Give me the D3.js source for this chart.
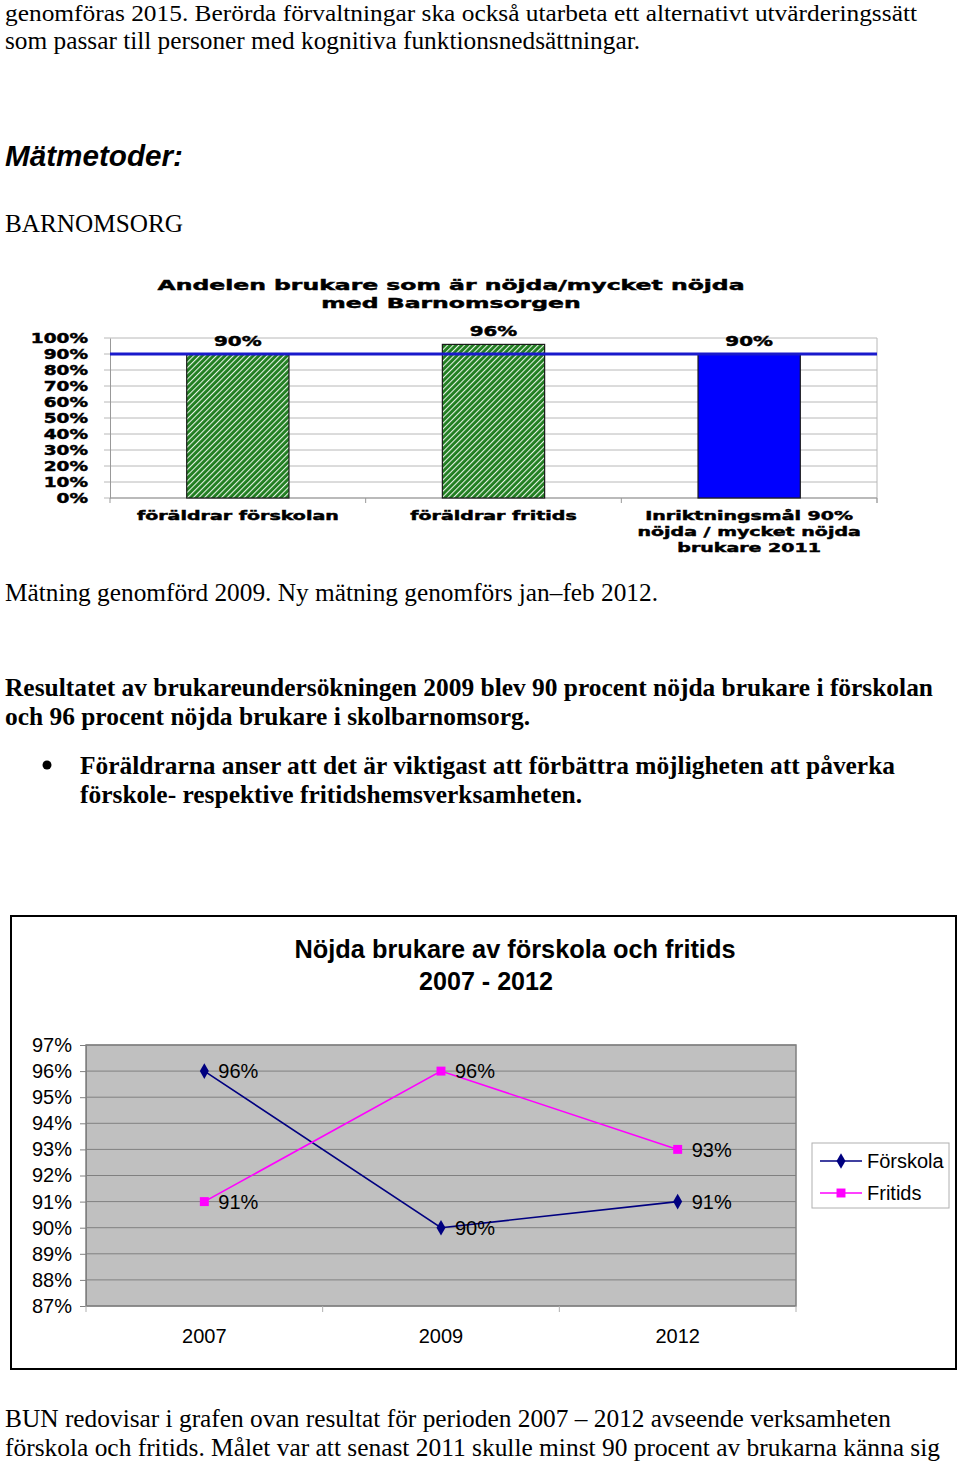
<!DOCTYPE html>
<html><head><meta charset="utf-8">
<script src="https://cdn.jsdelivr.net/npm/d3@7"></script>
<style>body{margin:0;background:#fff}svg{display:block}</style>
</head><body>
<script>
// ---------- DATA ----------
const barCategories = [["föräldrar förskolan"], ["föräldrar fritids"], ["Inriktningsmål 90%", "nöjda / mycket nöjda", "brukare 2011"]];
const barValues = [0.90, 0.96, 0.90];
const barTarget = 0.90;
const barTicks = [0, 0.1, 0.2, 0.3, 0.4, 0.5, 0.6, 0.7, 0.8, 0.9, 1.0];
const barTitle = ["Andelen brukare som är nöjda/mycket nöjda", "med Barnomsorgen"];

const years = ["2007", "2009", "2012"];
const forskola = [0.96, 0.90, 0.91];
const fritids = [0.91, 0.96, 0.93];
const lineTicks = [0.87, 0.88, 0.89, 0.90, 0.91, 0.92, 0.93, 0.94, 0.95, 0.96, 0.97];
const lineTitle = ["Nöjda brukare av förskola och fritids", "2007 - 2012"];
const seriesNames = ["Förskola", "Fritids"];

const textTop = ["genomföras 2015. Berörda förvaltningar ska också utarbeta ett alternativt utvärderingssätt",
  "som passar till personer med kognitiva funktionsnedsättningar."];
const heading = "Mätmetoder:";
const subheading = "BARNOMSORG";
const textMid = "Mätning genomförd 2009. Ny mätning genomförs jan–feb 2012.";
const textBold = ["Resultatet av brukareundersökningen 2009 blev 90 procent nöjda brukare i förskolan",
  "och 96 procent nöjda brukare i skolbarnomsorg."];
const textBullet = ["Föräldrarna anser att det är viktigast att förbättra möjligheten att påverka",
  "förskole- respektive fritidshemsverksamheten."];
const textBottom = ["BUN redovisar i grafen ovan resultat för perioden 2007 – 2012 avseende verksamheten",
  "förskola och fritids. Målet var att senast 2011 skulle minst 90 procent av brukarna känna sig"];

// ---------- PAGE ----------
const svg = d3.select("body").append("svg").attr("width", 960).attr("height", 1464);
svg.append("rect").attr("width", 960).attr("height", 1464).attr("fill", "#fff");

function fit(sel, w) { sel.attr("textLength", w).attr("lengthAdjust", "spacingAndGlyphs"); return sel; }
function stretch(sel, k) {
  sel.each(function () { const n = this.getComputedTextLength(); d3.select(this).attr("textLength", n * k).attr("lengthAdjust", "spacingAndGlyphs"); });
}
const serif = "'Liberation Serif','Times New Roman',serif";
const sans = "'Liberation Sans',Arial,sans-serif";
const wide = "'DejaVu Sans',Verdana,sans-serif";

function bodyLine(txt, x, y, w, bold, size) {
  const t = svg.append("text").attr("x", x).attr("y", y).text(txt)
    .attr("font-family", serif).attr("font-size", size || 26).attr("fill", "#000")
    .attr("font-weight", bold ? "bold" : "normal");
  fit(t, w);
}
bodyLine(textTop[0], 5, 21, 912, false, 24);
bodyLine(textTop[1], 5, 49, 635);
fit(svg.append("text").attr("x", 5).attr("y", 166).text(heading)
  .attr("font-family", sans).attr("font-size", 29).attr("font-weight", "bold").attr("font-style", "italic"), 178);
bodyLine(subheading, 5, 232, 178);
bodyLine(textMid, 5, 601, 653);
bodyLine(textBold[0], 5, 696, 928, true);
bodyLine(textBold[1], 5, 725, 525, true);
svg.append("circle").attr("cx", 47).attr("cy", 765).attr("r", 4.5).attr("fill", "#000");
bodyLine(textBullet[0], 80, 774, 815, true);
bodyLine(textBullet[1], 80, 803, 502, true);
bodyLine(textBottom[0], 5, 1427, 886);
bodyLine(textBottom[1], 5, 1456, 935);

// ---------- CHART 1 (bars) ----------
const defs = svg.append("defs");
const pat = defs.append("pattern").attr("id", "hatch").attr("width", 4).attr("height", 4)
  .attr("patternUnits", "userSpaceOnUse").attr("patternTransform", "rotate(45)");
pat.append("rect").attr("width", 4).attr("height", 4).attr("fill", "#1f7d1f");
pat.append("rect").attr("x", 0).attr("width", 1.1).attr("height", 4).attr("fill", "#e6f3e6");

const c1 = { l: 110, r: 877, t: 338, b: 498 };
const x1 = d3.scaleBand().domain(d3.range(barValues.length)).range([c1.l, c1.r]).paddingInner(0.6).paddingOuter(0.3);
const y1 = d3.scaleLinear().domain([0, 1]).range([c1.b, c1.t]);
const g1 = svg.append("g");

function heavy(sel) { return sel.attr("stroke", "#000").attr("stroke-width", 0.45); }

// gridlines
g1.append("g").selectAll("line").data(barTicks).join("line")
  .attr("x1", c1.l - 6).attr("x2", c1.r).attr("y1", d => y1(d)).attr("y2", d => y1(d))
  .attr("stroke", "#b8b8b8").attr("stroke-width", 1);
g1.append("line").attr("x1", c1.r).attr("x2", c1.r).attr("y1", c1.t).attr("y2", c1.b + 5).attr("stroke", "#b8b8b8");

const ax1 = g1.append("g").attr("transform", `translate(${c1.l},0)`)
  .call(d3.axisLeft(y1).tickValues(barTicks).tickFormat(d3.format(".0%")).tickSize(0).tickPadding(22));
ax1.select(".domain").attr("stroke", "#999");
ax1.selectAll("text").attr("font-family", wide).attr("font-weight", "bold").attr("font-size", 13.5).attr("fill", "#000").attr("dy", "0.36em");
heavy(ax1.selectAll("text"));
stretch(ax1.selectAll("text"), 1.37);

g1.append("line").attr("x1", c1.l).attr("x2", c1.r).attr("y1", c1.b).attr("y2", c1.b).attr("stroke", "#999");
const bounds1 = d3.range(barValues.length + 1).map(i => c1.l + i * (c1.r - c1.l) / barValues.length);
g1.append("g").selectAll("line").data(bounds1).join("line")
  .attr("x1", d => d).attr("x2", d => d).attr("y1", c1.b).attr("y2", c1.b + 5).attr("stroke", "#999");

// bars
g1.append("g").selectAll("rect").data(barValues).join("rect")
  .attr("x", (d, i) => x1(i)).attr("width", x1.bandwidth())
  .attr("y", d => y1(d)).attr("height", d => c1.b - y1(d))
  .attr("fill", (d, i) => i < 2 ? "url(#hatch)" : "#0000ff")
  .attr("stroke", "#1a1a1a").attr("stroke-width", 1.2);

// target line
g1.append("line").attr("x1", c1.l).attr("x2", c1.r).attr("y1", y1(barTarget)).attr("y2", y1(barTarget))
  .attr("stroke", "#1a1acc").attr("stroke-width", 3.2);

// data labels
const lab1 = g1.append("g").selectAll("text").data(barValues).join("text")
  .attr("x", (d, i) => x1(i) + x1.bandwidth() / 2).attr("y", d => y1(d) - 8)
  .attr("text-anchor", "middle").attr("font-family", wide).attr("font-weight", "bold").attr("font-size", 14)
  .text(d3.format(".0%"));
heavy(lab1);
stretch(lab1, 1.42);

// category labels
barCategories.forEach((lines, i) => {
  const cx = x1(i) + x1.bandwidth() / 2;
  lines.forEach((ln, j) => {
    const t = g1.append("text").attr("x", cx).attr("y", 520 + j * 16).attr("text-anchor", "middle")
      .attr("font-family", wide).attr("font-weight", "bold").attr("font-size", 12.5).text(ln);
    heavy(t);
    stretch(t, 1.52);
  });
});

// title
barTitle.forEach((ln, j) => {
  const t = g1.append("text").attr("x", 451).attr("y", 290 + j * 18).attr("text-anchor", "middle")
    .attr("font-family", wide).attr("font-weight", "bold").attr("font-size", 14.5).text(ln);
  heavy(t);
  stretch(t, 1.62);
});

// ---------- CHART 2 (lines) ----------
svg.append("rect").attr("x", 11).attr("y", 916).attr("width", 945).attr("height", 453)
  .attr("fill", "none").attr("stroke", "#000").attr("stroke-width", 2);

const c2 = { l: 86, r: 796, t: 1045, b: 1306 };
const x2 = d3.scaleBand().domain(years).range([c2.l, c2.r]);
const y2 = d3.scaleLinear().domain([0.87, 0.97]).range([c2.b, c2.t]);
const g2 = svg.append("g");

g2.append("rect").attr("x", c2.l).attr("y", c2.t).attr("width", c2.r - c2.l).attr("height", c2.b - c2.t)
  .attr("fill", "#c0c0c0").attr("stroke", "#808080").attr("stroke-width", 1.5);
g2.append("g").selectAll("line").data(lineTicks).join("line")
  .attr("x1", c2.l).attr("x2", c2.r).attr("y1", d => y2(d)).attr("y2", d => y2(d))
  .attr("stroke", "#808080").attr("stroke-width", 1);

const ax2 = g2.append("g").attr("transform", `translate(${c2.l},0)`)
  .call(d3.axisLeft(y2).tickValues(lineTicks).tickFormat(d3.format(".0%")).tickSize(6).tickPadding(8));
ax2.select(".domain").attr("stroke", "#808080");
ax2.selectAll(".tick line").attr("stroke", "#808080");
ax2.selectAll("text").attr("font-family", sans).attr("font-size", 20).attr("fill", "#000");

const bounds2 = d3.range(years.length + 1).map(i => c2.l + i * x2.bandwidth());
g2.append("g").selectAll("line").data(bounds2).join("line")
  .attr("x1", d => d).attr("x2", d => d).attr("y1", c2.b).attr("y2", c2.b + 6).attr("stroke", "#b0b0b0");
g2.append("g").selectAll("text").data(years).join("text")
  .attr("x", d => x2(d) + x2.bandwidth() / 2).attr("y", 1343).attr("text-anchor", "middle")
  .attr("font-family", sans).attr("font-size", 20).text(d => d);

const cx2 = i => x2(years[i]) + x2.bandwidth() / 2;
const line = d3.line().x((d, i) => cx2(i)).y(d => y2(d));
const series = [
  { name: seriesNames[0], values: forskola, color: "#000080", sym: d3.symbolDiamond, size: 70 },
  { name: seriesNames[1], values: fritids, color: "#ff00ff", sym: d3.symbolSquare, size: 80 }
];
series.forEach(s => {
  g2.append("path").attr("d", line(s.values)).attr("fill", "none").attr("stroke", s.color).attr("stroke-width", 1.6);
});
series.forEach(s => {
  g2.append("g").selectAll("path").data(s.values).join("path")
    .attr("transform", (d, i) => `translate(${cx2(i)},${y2(d)})`)
    .attr("d", d3.symbol().type(s.sym).size(s.size)).attr("fill", s.color);
});
series.forEach(s => {
  g2.append("g").selectAll("text").data(s.values).join("text")
    .attr("x", (d, i) => cx2(i) + 14).attr("y", d => y2(d)).attr("dy", "0.36em")
    .attr("font-family", sans).attr("font-size", 20).text(d3.format(".0%"));
});

// title
lineTitle.forEach((ln, j) => {
  const t = g2.append("text").attr("x", j === 0 ? 515 : 486).attr("y", 958 + j * 32).attr("text-anchor", "middle")
    .attr("font-family", sans).attr("font-weight", "bold").attr("font-size", 25).text(ln);
  fit(t, j === 0 ? 441 : 134);
});

// legend
const lg = g2.append("g");
lg.append("rect").attr("x", 812).attr("y", 1143).attr("width", 137).attr("height", 65)
  .attr("fill", "#fff").attr("stroke", "#b0b0b0");
series.forEach((s, i) => {
  const yy = 1161 + i * 32;
  lg.append("line").attr("x1", 820).attr("x2", 862).attr("y1", yy).attr("y2", yy).attr("stroke", s.color).attr("stroke-width", 1.6);
  lg.append("path").attr("transform", `translate(841,${yy})`).attr("d", d3.symbol().type(s.sym).size(s.size)).attr("fill", s.color);
  lg.append("text").attr("x", 867).attr("y", yy).attr("dy", "0.36em").attr("font-family", sans).attr("font-size", 20).text(s.name);
});
</script>
</body></html>
